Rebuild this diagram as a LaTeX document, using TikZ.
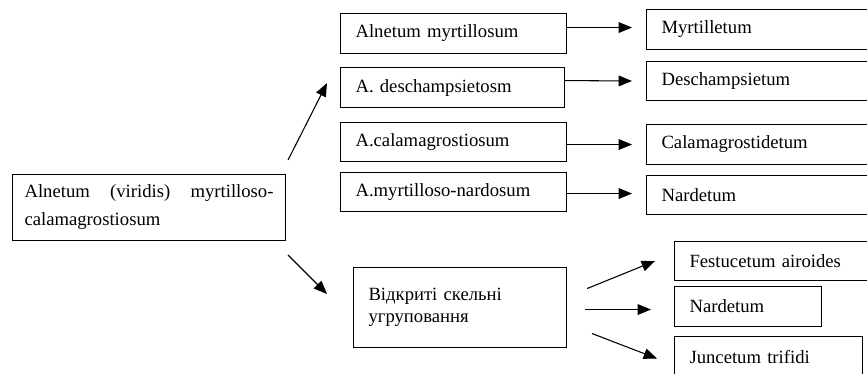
\documentclass[tikz,border=0pt]{standalone}
\usepackage{fontspec}
\setmainfont{Liberation Serif}
\usepackage{tikz}
\usetikzlibrary{arrows.meta}
\tikzset{
	every picture/.style={x=0.75pt, y=-0.75pt},
	box/.style={draw, line width=0.8pt, anchor=north west, inner xsep=11.25pt, inner ysep=0pt,
		align=left, font=\fontsize{14}{16.5}\selectfont},
	link/.style={-{Triangle[length=10pt,width=8pt]}, line width=0.8pt}, % filled heads
}

\begin{document}
\begin{tikzpicture}
	\path[use as bounding box, clip] (0,0) rectangle (867,374);
	\fill[white] (0,0) rectangle (867,374);

	% left
	\node[box, inner xsep=9pt, text width=186.75pt, minimum height=49.5pt, align=justify,
		font=\fontsize{14}{21}\selectfont] (root) at (12,174) {Alnetum (viridis) myrtilloso-calamagrostiosum};

	% middle column
	\node[box, text width=147pt, minimum height=30pt] (am) at (340,13) {Alnetum myrtillosum};
	\node[box, text width=145.5pt, minimum height=30pt] (ad) at (340,67) {A. deschampsietosm};
	\node[box, text width=147pt, minimum height=29.25pt] (ac) at (340,122) {A.calamagrostiosum};
	\node[box, text width=147pt, minimum height=29.25pt] (an) at (340,172) {A.myrtilloso-nardosum};
	\node[box, text width=137.25pt, minimum height=60pt] (ot) at (353,267) {Відкриті скельні\\угруповання};

	% right column
	\node[box, text width=153pt, minimum height=30pt] (my) at (646,9) {Myrtilletum};
	\node[box, text width=153pt, minimum height=29.25pt] (de) at (646,61) {Deschampsietum};
	\node[box, text width=153pt, minimum height=30pt] (ca) at (646,124) {Calamagrostidetum};
	\node[box, text width=153pt, minimum height=29.25pt] (na) at (646,175) {Nardetum};
	\node[box, text width=132pt, minimum height=29.25pt] (fe) at (674,241) {Festucetum airoides};
	\node[box, text width=87.75pt, minimum height=30pt] (nr) at (674,286) {Nardetum};
	\node[box, text width=118.5pt, minimum height=30pt] (ju) at (674,336) {Juncetum trifidi};

	\draw[link] ([xshift=1.5pt,yshift=10.5pt]root.north east) -- ([xshift=-9.75pt,yshift=18.75pt]ad.south west);
	\draw[link] ([xshift=1.5pt,yshift=-10.5pt]root.south east) -- ([xshift=-19.5pt,yshift=-20.25pt]ot.north west);

	\draw[link] ([yshift=4.5pt]am.east) -- ([xshift=-10.5pt,yshift=1.5pt]my.west);
	\draw[link] ([yshift=5.25pt]ad.east) -- ([xshift=-10.5pt]de.west);
	\draw[link] ([yshift=-1.875pt]ac.east) -- ([xshift=-10.5pt]ca.west);
	\draw[link] ([yshift=-1.125pt]an.east) -- ([xshift=-10.5pt,yshift=1.125pt]na.west);

	\draw[link] ([xshift=15pt,yshift=14.25pt]ot.east) -- ([xshift=-14.25pt]fe.west);
	\draw[link] ([xshift=13.5pt,yshift=-1.5pt]ot.east) -- ([xshift=-17.25pt,yshift=-2.25pt]nr.west);
	\draw[link] ([xshift=18.75pt,yshift=-19.5pt]ot.east) -- ([xshift=-12.75pt,yshift=-1.5pt]ju.west);
\end{tikzpicture}
\end{document}
